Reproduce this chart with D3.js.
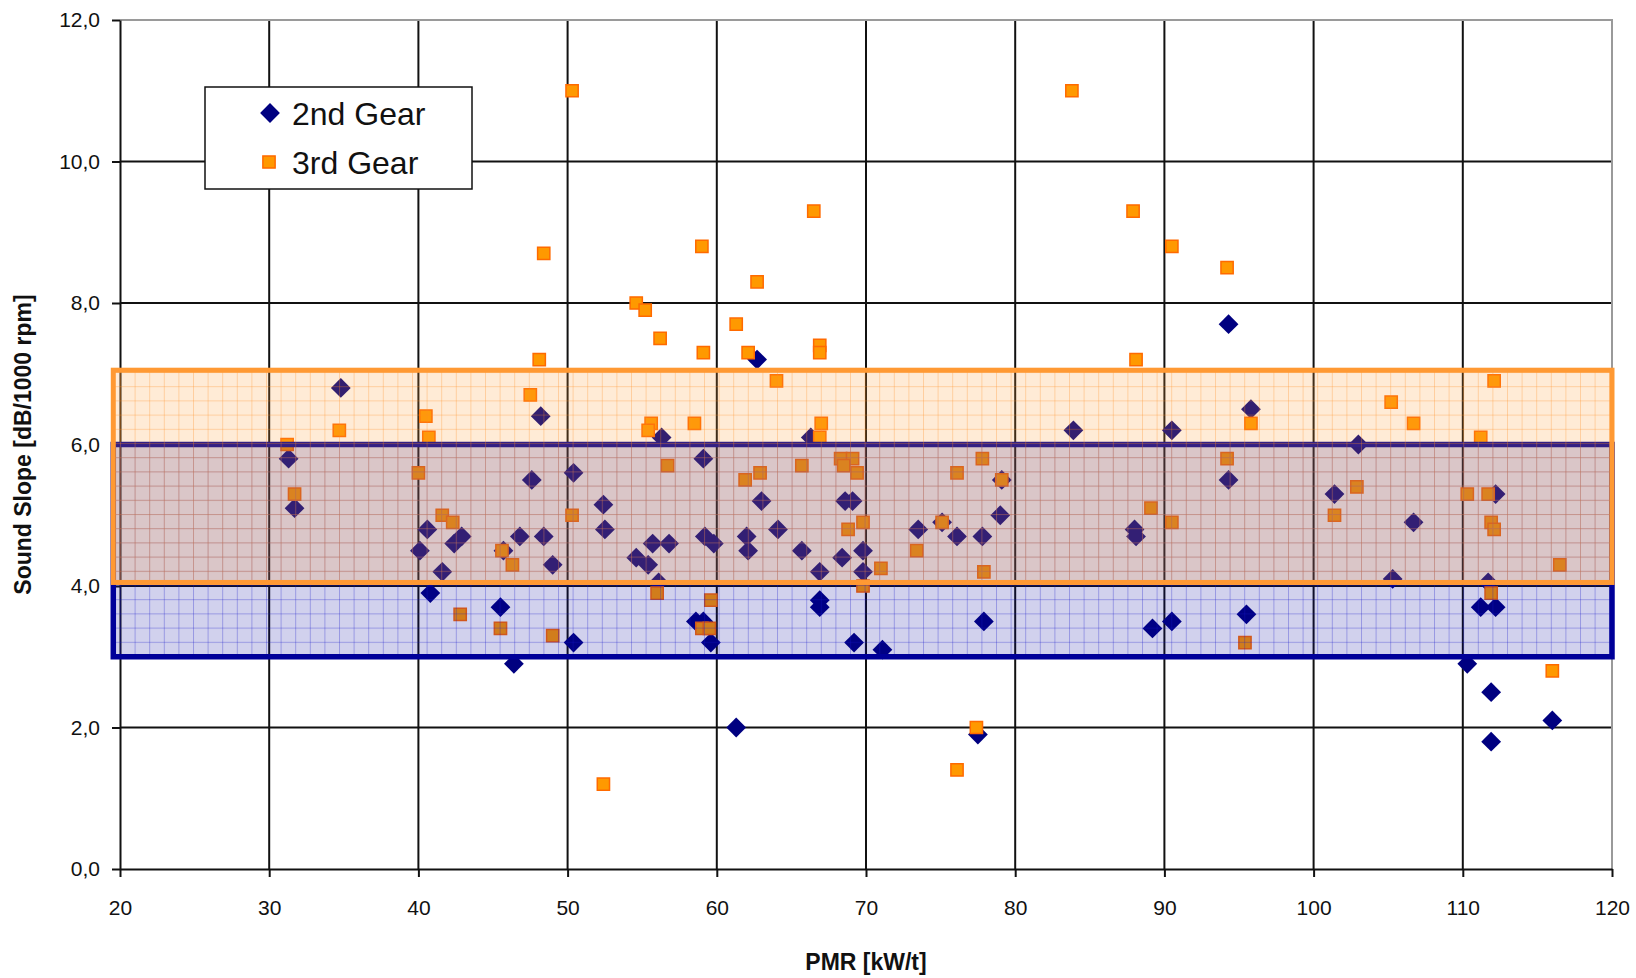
<!DOCTYPE html>
<html>
<head>
<meta charset="utf-8">
<script src="https://cdn.jsdelivr.net/npm/d3@7"></script>
<style>
  body { margin: 0; background: #fff; }
  text { font-family: "Liberation Sans", Arial, sans-serif; fill: #111; }
</style>
</head>
<body>
<svg id="chart" width="1636" height="978"></svg>
<script>
// PMR [kW/t] vs sound slope [dB/1000 rpm]
var secondGear = [
  [34.8,6.8],[48.2,6.4],[31.3,5.8],[31.7,5.1],[40.6,4.8],[40.1,4.5],[41.6,4.2],[42.4,4.6],
  [42.9,4.7],[47.6,5.5],[50.4,5.6],[52.4,5.15],[52.5,4.8],[46.8,4.7],[48.4,4.7],[49.0,4.3],
  [45.7,4.5],[40.8,3.9],[45.5,3.7],[50.4,3.2],[46.4,2.9],[62.7,7.2],[94.3,7.7],[56.3,6.1],
  [66.3,6.1],[59.1,5.8],[63.0,5.2],[68.6,5.2],[69.1,5.2],[55.7,4.6],[56.8,4.6],[59.2,4.7],
  [59.8,4.6],[62.0,4.7],[62.1,4.5],[64.1,4.8],[65.7,4.5],[68.4,4.4],[69.8,4.5],[54.6,4.4],
  [55.4,4.3],[66.9,4.2],[69.8,4.2],[66.9,3.8],[66.9,3.7],[58.6,3.5],[59.1,3.5],[59.6,3.2],
  [69.2,3.2],[71.1,3.1],[56.1,4.05],[73.5,4.8],[76.1,4.7],[75.1,4.9],[95.8,6.5],[83.9,6.2],
  [90.5,6.2],[94.3,5.5],[79.0,5.0],[77.8,4.7],[88.0,4.8],[88.1,4.7],[79.1,5.5],[77.9,3.5],
  [89.2,3.4],[90.5,3.5],[95.5,3.6],[103.0,6.0],[101.4,5.3],[106.7,4.9],[112.2,5.3],[105.3,4.1],
  [111.7,4.05],[111.2,3.7],[112.2,3.7],[110.3,2.9],[111.9,2.5],[116.0,2.1],[111.9,1.8],
  [61.3,2.0],[77.5,1.9]
];
var thirdGear = [
  [50.3,11.0],[83.8,11.0],[66.5,9.3],[87.9,9.3],[59.0,8.8],[90.5,8.8],[48.4,8.7],[94.2,8.5],
  [62.7,8.3],[54.6,8.0],[55.2,7.9],[61.3,7.7],[56.2,7.5],[59.1,7.3],[62.1,7.3],[66.9,7.4],
  [66.9,7.3],[48.1,7.2],[88.1,7.2],[64.0,6.9],[112.1,6.9],[47.5,6.7],[40.5,6.4],[34.7,6.2],
  [40.7,6.1],[31.2,6.0],[40.0,5.6],[31.7,5.3],[41.6,5.0],[42.3,4.9],[50.3,5.0],[45.6,4.5],
  [46.3,4.3],[42.8,3.6],[45.5,3.4],[49.0,3.3],[55.6,6.3],[55.4,6.2],[58.5,6.3],[67.0,6.3],
  [66.9,6.1],[56.7,5.7],[61.9,5.5],[62.9,5.6],[65.7,5.7],[68.3,5.8],[69.1,5.8],[68.5,5.7],
  [69.4,5.6],[76.1,5.6],[69.8,4.9],[68.8,4.8],[73.4,4.5],[71.0,4.25],[75.1,4.9],[69.8,4.0],
  [56.0,3.9],[59.6,3.8],[59.0,3.4],[59.5,3.4],[95.8,6.3],[77.8,5.8],[79.1,5.5],[94.2,5.8],
  [89.1,5.1],[90.5,4.9],[77.9,4.2],[95.4,3.2],[105.2,6.6],[106.7,6.3],[111.2,6.1],[102.9,5.4],
  [101.4,5.0],[110.3,5.3],[111.7,5.3],[111.9,4.9],[112.1,4.8],[116.5,4.3],[111.9,3.9],
  [116.0,2.8],[77.4,2.0],[76.1,1.4],[52.4,1.2]
];
var blueBand = [3.0, 6.0];
var orangeBand = [4.05, 7.05];
var bandX = [19.55, 120];

var xTicks = [20,30,40,50,60,70,80,90,100,110,120];
var yTicks = [0,2,4,6,8,10,12];
var yTickLabels = ["0,0","2,0","4,0","6,0","8,0","10,0","12,0"];
var seriesNames = ["2nd Gear", "3rd Gear"];

var svg = d3.select("#chart");
var plotLeft = 120, plotRight = 1612, plotTop = 20, plotBottom = 869;

var x = d3.scaleLinear().domain([20,120]).range([plotLeft,plotRight]);
var y = d3.scaleLinear().domain([0,12]).range([plotBottom,plotTop]);

// patterns for the bands
var defs = svg.append("defs");
function gridPattern(id, bg, line) {
  var p = defs.append("pattern").attr("id", id).attr("patternUnits","userSpaceOnUse")
    .attr("x", plotLeft).attr("y", plotBottom).attr("width", 14.6).attr("height", 14.2);
  p.append("rect").attr("width",14.6).attr("height",14.2).attr("fill",bg);
  p.append("line").attr("x1",0.5).attr("x2",0.5).attr("y1",0).attr("y2",14.2).attr("stroke",line).attr("stroke-width",1);
  p.append("line").attr("x1",0).attr("x2",14.6).attr("y1",0.5).attr("y2",0.5).attr("stroke",line).attr("stroke-width",1);
}
gridPattern("bluePat", "rgba(0,0,153,0.18)", "rgba(20,20,200,0.3)");
gridPattern("orangePat", "rgba(255,153,51,0.2)", "rgba(255,140,30,0.3)");

// grid
svg.append("g").selectAll("line").data(xTicks.slice(1, -1)).join("line")
  .attr("x1", d => x(d)).attr("x2", d => x(d)).attr("y1", plotTop).attr("y2", plotBottom)
  .attr("stroke", "#111").attr("stroke-width", 2);
svg.append("g").selectAll("line").data(yTicks.slice(1, -1)).join("line")
  .attr("x1", plotLeft).attr("x2", plotRight).attr("y1", d => y(d)).attr("y2", d => y(d))
  .attr("stroke", "#111").attr("stroke-width", 2);
// top and right border (grey)
svg.append("path").attr("d", "M" + plotLeft + "," + plotTop + "H" + plotRight + "V" + plotBottom)
  .attr("fill", "none").attr("stroke", "#9a9a9a").attr("stroke-width", 2);

// axes
var xAxis = d3.axisBottom(x).tickValues(xTicks).tickSizeInner(8).tickSizeOuter(0).tickPadding(23);
var gx = svg.append("g").attr("transform", "translate(0," + plotBottom + ")").call(xAxis);
var yAxis = d3.axisLeft(y).tickValues(yTicks).tickSizeInner(8).tickSizeOuter(0).tickPadding(12)
  .tickFormat((d, i) => yTickLabels[i]);
var gy = svg.append("g").attr("transform", "translate(" + plotLeft + ",0)").call(yAxis);
[gx, gy].forEach(g => {
  g.select(".domain").attr("stroke", "#111").attr("stroke-width", 2);
  g.selectAll(".tick line").attr("stroke", "#111").attr("stroke-width", 2);
  g.selectAll("text").attr("font-size", 21).attr("fill", "#222")
    .attr("font-family", "'Liberation Sans', Arial, sans-serif");
});

// points
var diamond = d3.symbol(d3.symbolSquare, 196);
var square = d3.symbol(d3.symbolSquare, 150);
svg.append("g").selectAll("path").data(secondGear).join("path")
  .attr("d", diamond)
  .attr("transform", d => "translate(" + x(d[0]) + "," + y(d[1]) + ") rotate(45)")
  .attr("fill", "#000080");
svg.append("g").selectAll("path").data(thirdGear).join("path")
  .attr("d", square)
  .attr("transform", d => "translate(" + x(d[0]) + "," + y(d[1]) + ")")
  .attr("fill", "#ff9900").attr("stroke", "#ff6a00").attr("stroke-width", 1.5);

// bands
svg.append("rect")
  .attr("x", x(bandX[0])).attr("width", x(bandX[1]) - x(bandX[0]))
  .attr("y", y(blueBand[1])).attr("height", y(blueBand[0]) - y(blueBand[1]))
  .attr("fill", "url(#bluePat)").attr("stroke", "#000099").attr("stroke-width", 5.5);
svg.append("rect")
  .attr("x", x(bandX[0])).attr("width", x(bandX[1]) - x(bandX[0]))
  .attr("y", y(orangeBand[1])).attr("height", y(orangeBand[0]) - y(orangeBand[1]))
  .attr("fill", "url(#orangePat)").attr("stroke", "#ff9933").attr("stroke-width", 5);

// axis titles
svg.append("text").attr("x", (plotLeft + plotRight) / 2).attr("y", 970)
  .attr("text-anchor", "middle").attr("font-size", 23).attr("font-weight", "bold")
  .text("PMR [kW/t]");
svg.append("text").attr("transform", "translate(31," + ((plotTop + plotBottom) / 2) + ") rotate(-90)")
  .attr("text-anchor", "middle").attr("font-size", 23).attr("font-weight", "bold")
  .text("Sound Slope [dB/1000 rpm]");

// legend
var lg = svg.append("g");
lg.append("rect").attr("x", 205).attr("y", 87).attr("width", 267).attr("height", 102)
  .attr("fill", "#fff").attr("stroke", "#111").attr("stroke-width", 1.5);
lg.append("path").attr("d", diamond).attr("transform", "translate(270,113) rotate(45)").attr("fill", "#000080");
lg.append("path").attr("d", square).attr("transform", "translate(269,162)")
  .attr("fill", "#ff9900").attr("stroke", "#ff6a00").attr("stroke-width", 1.5);
lg.selectAll("text").data(seriesNames).join("text")
  .attr("x", 292).attr("y", (d, i) => 113 + i * 49).attr("dy", "0.36em")
  .attr("font-size", 32).attr("fill", "#222").text(d => d);
</script>
</body>
</html>
